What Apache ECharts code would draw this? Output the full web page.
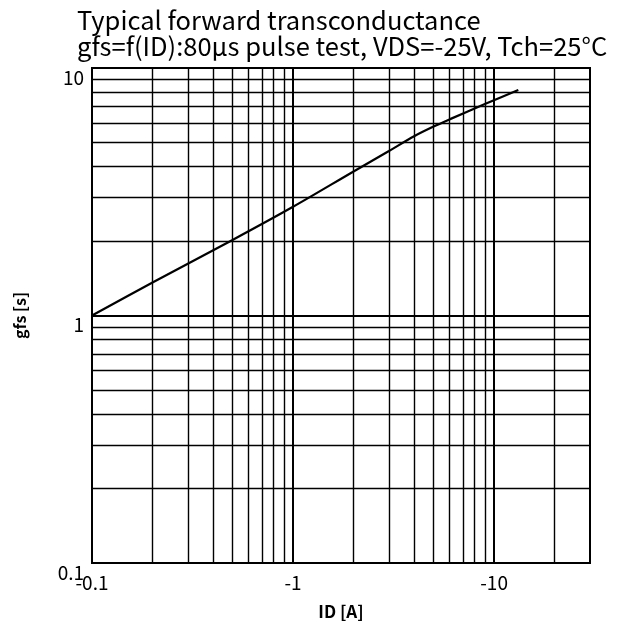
<!DOCTYPE html>
<html>
<head>
<meta charset="utf-8">
<script src="https://cdn.jsdelivr.net/npm/echarts@6/dist/echarts.min.js"></script>
<style>
html,body{margin:0;padding:0;background:#fff;}
#chart{width:634px;height:627px;}
</style>
</head>
<body>
<div id="chart"></div>
<script>
// ---- data ----
var titleLine1 = 'Typical forward transconductance';
var titleLine2 = 'gfs=f(ID):80\u03bcs pulse test, VDS=-25V, Tch=25\u00b0C';
var xName = 'ID [A]';
var yName = 'gfs [s]';
// |ID| in A (drawn on log axis, labelled as negative currents)
var idValues  = [0.1, 0.2, 0.5, 1.0, 2.0, 3.0, 4.0, 5.0, 6.0, 9.0, 13.2];
var gfsValues = [1.0, 1.36, 2.02, 2.75, 3.82, 4.62, 5.3, 5.8, 6.2, 7.15, 8.15];
var xTickValues = [0.1, 1, 10];
var xTickLabels = ['-0.1', '-1', '-10'];
var yTickValues = [0.1, 1, 10];
var yTickLabels = ['0.1', '1', '10'];
var xMinorGrid = [0.2,0.3,0.4,0.5,0.6,0.7,0.8,0.9,2,3,4,5,6,7,8,9,20];
var xMajorGrid = [1, 10];
var yMinorGrid = [0.2,0.3,0.4,0.5,0.6,0.7,0.8,0.9,2,3,4,5,6,7,8,9];
var yMajorGrid = [1];

var FONT = '"Noto Sans CJK JP", sans-serif';

function labelFor(values, labels) {
  return function (v) {
    for (var i = 0; i < values.length; i++) {
      if (Math.abs(Math.log10(v) - Math.log10(values[i])) < 1e-6) return labels[i];
    }
    return '';
  };
}

var gridLines = [];
xMinorGrid.forEach(function (v) { gridLines.push({ xAxis: v, lineStyle: { width: 1.4 } }); });
xMajorGrid.forEach(function (v) { gridLines.push({ xAxis: v, lineStyle: { width: 2 } }); });
yMinorGrid.forEach(function (v) { gridLines.push({ yAxis: v, lineStyle: { width: 1.4 } }); });
yMajorGrid.forEach(function (v) { gridLines.push({ yAxis: v, lineStyle: { width: 2 } }); });

var curve = idValues.map(function (x, i) { return [x, gfsValues[i]]; });

var chart = echarts.init(document.getElementById('chart'), null, { renderer: 'canvas' });
chart.setOption({
  animation: false,
  backgroundColor: '#fff',
  title: [
    { text: titleLine1, left: 72, top: 3, textStyle: { fontFamily: FONT, fontSize: 25.5, fontWeight: 'normal', color: '#000' } },
    { text: titleLine2, left: 72, top: 29, textStyle: { fontFamily: FONT, fontSize: 25.5, fontWeight: 'normal', color: '#000' } }
  ],
  grid: { left: 92, right: 44, top: 68, bottom: 64, show: true, borderColor: '#000', borderWidth: 2, backgroundColor: 'transparent' },
  xAxis: {
    type: 'log', logBase: 10, min: 0.1, max: 30,
    name: xName, nameLocation: 'middle', nameGap: 40,
    nameTextStyle: { fontFamily: FONT, fontSize: 17, fontWeight: 'bold', color: '#000' },
    axisLine: { show: false }, axisTick: { show: false },
    splitLine: { show: false },
    axisLabel: { fontFamily: FONT, fontSize: 19, color: '#000', margin: 10, showMaxLabel: false, formatter: labelFor(xTickValues, xTickLabels) }
  },
  yAxis: {
    type: 'log', logBase: 10, min: 0.1, max: 10,
    name: yName, nameLocation: 'middle', nameGap: 64, nameRotate: 90,
    nameTextStyle: { fontFamily: FONT, fontSize: 16, fontWeight: 'bold', color: '#000' },
    axisLine: { show: false }, axisTick: { show: false },
    splitLine: { show: false },
    axisLabel: { fontFamily: FONT, fontSize: 19, color: '#000', margin: 8, verticalAlign: 'top', formatter: labelFor(yTickValues, yTickLabels) }
  },
  series: [
    {
      type: 'line', data: [], silent: true,
      markLine: { silent: true, symbol: 'none', label: { show: false }, animation: false,
        lineStyle: { color: '#000', type: 'solid' }, emphasis: { disabled: true }, data: gridLines }
    },
    {
      type: 'line', data: curve, smooth: 0.3, showSymbol: false, silent: true,
      lineStyle: { color: '#000', width: 2.2 }, z: 5
    }
  ]
});
</script>
</body>
</html>
